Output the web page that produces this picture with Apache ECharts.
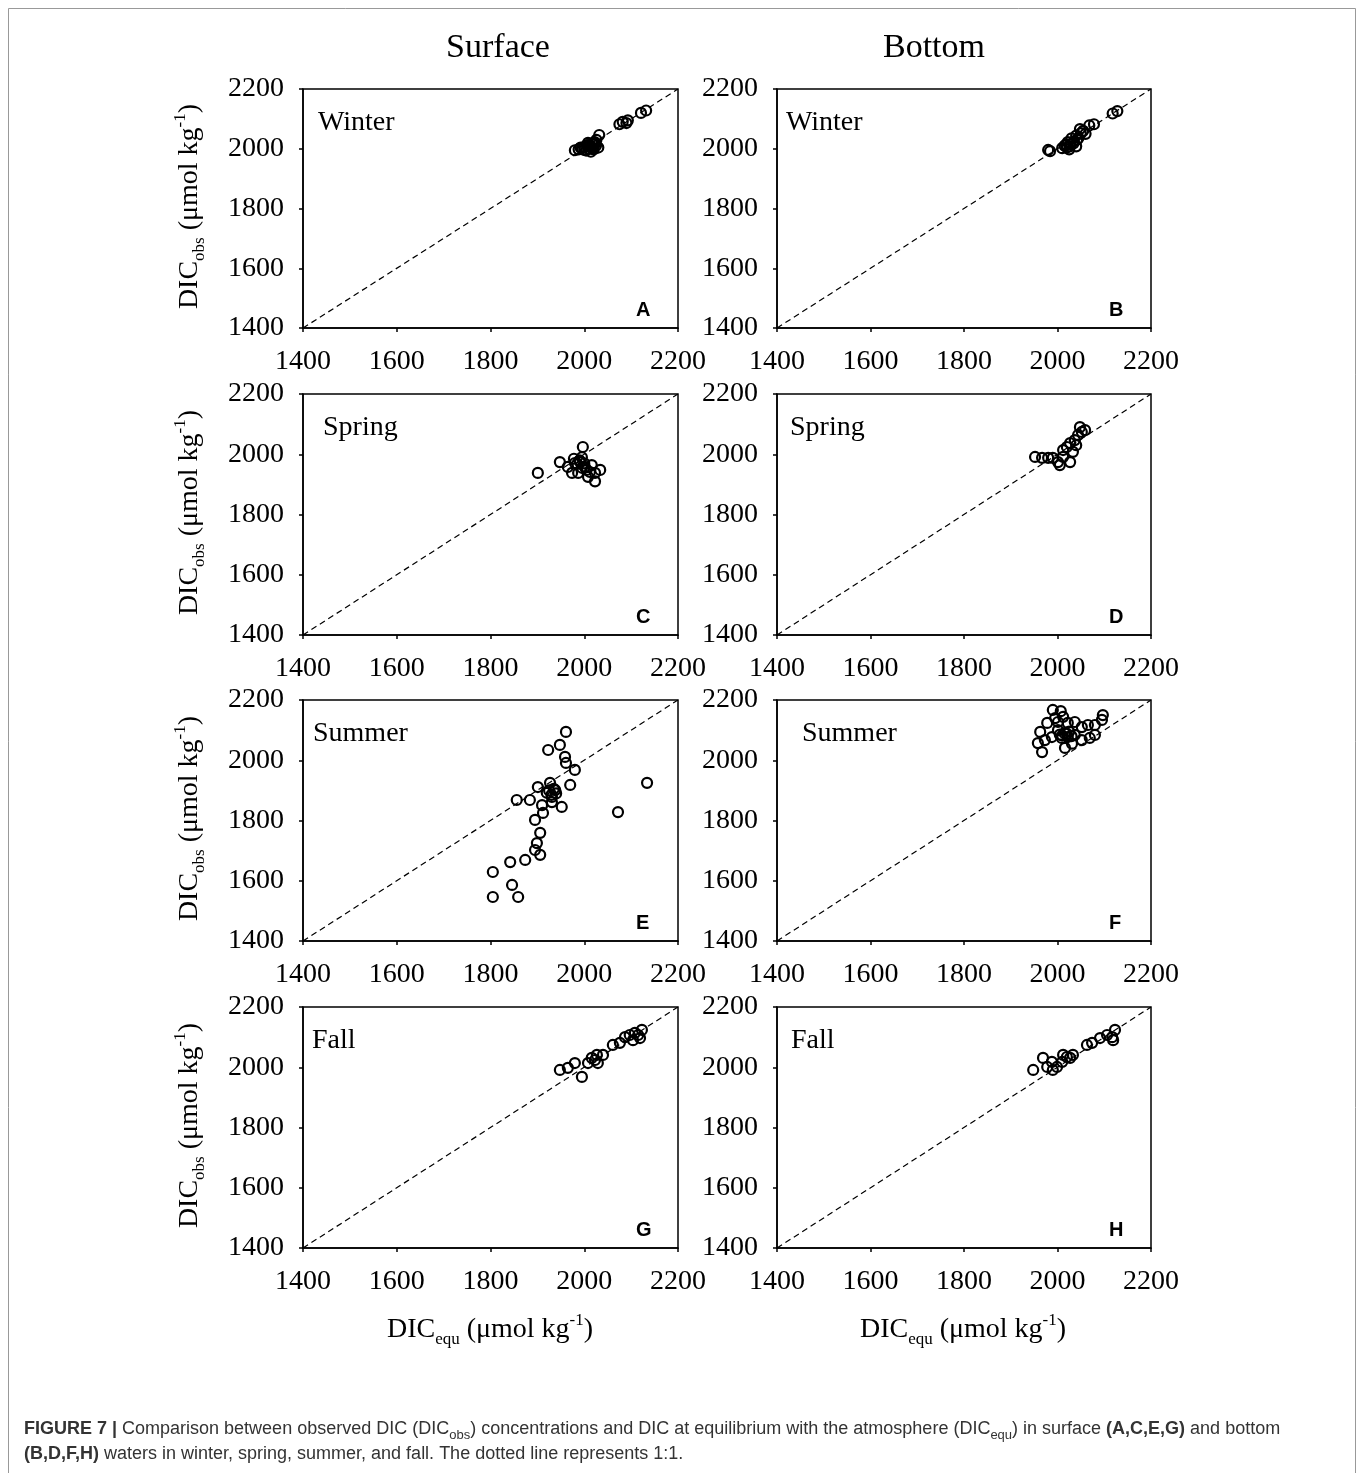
<!DOCTYPE html>
<html>
<head>
<meta charset="utf-8">
<script src="https://cdn.jsdelivr.net/npm/echarts@6/dist/echarts.min.js"></script>
<style>
  html, body { margin: 0; padding: 0; background: #fff; }
  #main { width: 1358px; height: 1473px; }
</style>
</head>
<body>
<div id="main"></div>
<script>
// axis ticks (both axes, all panels)
var tickValues = [1400, 1600, 1800, 2000, 2200];

// [DICequ, DICobs] pairs
var surfaceWinter = [
  [1980, 1995], [1988, 1998], [1995, 2001], [2000, 2006], [2004, 1994], [2010, 2000],
  [2010, 2012], [2015, 2005], [2018, 2016], [2020, 1998], [2025, 2010], [2026, 2030],
  [2032, 2046], [2000, 1996], [2014, 1990], [2030, 2004], [2022, 2022], [2008, 2020],
  [2012, 2008], [2018, 2002], [2024, 2018], [2006, 2012], [1992, 2004],
  [2075, 2082], [2082, 2090], [2090, 2086], [2093, 2095], [2121, 2120], [2132, 2128]
];
var bottomWinter = [
  [1980, 1996], [1984, 1992], [2010, 2002], [2015, 2010], [2020, 2004], [2022, 2022],
  [2028, 2015], [2030, 2035], [2035, 2025], [2040, 2044], [2045, 2036], [2050, 2052],
  [2055, 2060], [2060, 2050], [2040, 2008], [2025, 1998], [2048, 2066], [2068, 2078],
  [2018, 2014], [2026, 2008], [2034, 2018], [2042, 2030],
  [2078, 2082], [2118, 2118], [2128, 2126]
];
var surfaceSpring = [
  [1901, 1938], [1948, 1974], [1965, 1958], [1980, 1971], [1991, 1974], [2001, 1958],
  [2016, 1964], [2034, 1948], [2023, 1938], [2023, 1910], [2008, 1925], [1987, 1938],
  [1974, 1938], [2012, 1941], [1997, 2024], [1995, 1990], [1990, 1980], [1985, 1968],
  [2000, 1970], [1995, 1955], [2005, 1948], [1978, 1985]
];
var bottomSpring = [
  [1952, 1991], [1967, 1988], [1980, 1988], [1990, 1988], [2001, 1974], [2005, 1964],
  [2012, 1991], [2012, 2014], [2020, 2024], [2027, 2037], [2033, 2008], [2037, 2047],
  [2044, 2064], [2052, 2074], [2048, 2090], [2059, 2080], [2027, 1974], [2040, 2030]
];
var surfaceSummer = [
  [1961, 2094], [1923, 2034], [1948, 2051], [1959, 2011], [1961, 1991], [1980, 1968],
  [1901, 1911], [1927, 1925], [1938, 1901], [1970, 1918], [1931, 1878], [1931, 1861],
  [1856, 1868], [1884, 1868], [1910, 1851], [1952, 1845], [1912, 1825], [1895, 1802],
  [1906, 1759], [1899, 1725], [1895, 1702], [1906, 1686], [1874, 1669], [1842, 1662],
  [1805, 1629], [1846, 1586], [1805, 1546], [1859, 1546], [2072, 1828], [2134, 1925],
  [1920, 1892], [1930, 1885], [1925, 1900], [1935, 1905], [1940, 1890]
];
var bottomSummer = [
  [2007, 2163], [1963, 2094], [1958, 2057], [1967, 2027], [1978, 2124], [1995, 2140],
  [1990, 2167], [2001, 2127], [2012, 2144], [2022, 2124], [2037, 2127], [2052, 2110],
  [2065, 2117], [2080, 2117], [2095, 2134], [2097, 2150], [1988, 2077], [2009, 2074],
  [2022, 2077], [2037, 2084], [2016, 2041], [2052, 2067], [2069, 2074], [2080, 2084],
  [1973, 2067], [2001, 2100], [2031, 2055], [2015, 2090], [2025, 2095], [2005, 2085],
  [2010, 2082], [2020, 2088], [2030, 2080]
];
var surfaceFall = [
  [1948, 1991], [1965, 1998], [1995, 1968], [1980, 2014], [2008, 2014], [2016, 2031],
  [2027, 2041], [2029, 2014], [2023, 2024], [2040, 2041], [2061, 2074], [2076, 2081],
  [2087, 2100], [2097, 2107], [2104, 2090], [2115, 2107], [2119, 2097], [2108, 2114],
  [2123, 2124]
];
var bottomFall = [
  [1948, 1991], [1969, 2031], [1978, 2001], [1988, 2018], [1990, 1991], [1999, 2001],
  [2010, 2018], [2020, 2034], [2027, 2031], [2033, 2041], [2012, 2041], [2063, 2074],
  [2074, 2081], [2091, 2097], [2106, 2107], [2117, 2100], [2123, 2124], [2119, 2090]
];

var panelData = [surfaceWinter, bottomWinter, surfaceSpring, bottomSpring,
                 surfaceSummer, bottomSummer, surfaceFall, bottomFall];
var panelLetters = ['A', 'B', 'C', 'D', 'E', 'F', 'G', 'H'];
var seasons = ['Winter', 'Spring', 'Summer', 'Fall'];

// layout
var gridLefts = [303, 777];
var gridWidths = [375, 374];
var gridTops = [89, 394, 700, 1007];
var gridHeights = [239, 241, 241, 241];
var seasonLeft = [[318, 786], [323, 790], [313, 802], [312, 791]];

var serif = '"Liberation Serif", "DejaVu Serif", serif';
var sans = '"Liberation Sans", Arial, sans-serif';

var grids = [], xAxes = [], yAxes = [], series = [], graphics = [];

for (var i = 0; i < 8; i++) {
  var row = Math.floor(i / 2), col = i % 2;
  grids.push({
    left: gridLefts[col], top: gridTops[row],
    width: gridWidths[col], height: gridHeights[row],
    show: true, borderColor: '#000', borderWidth: 1.5
  });
  var axisBase = {
    gridIndex: i, type: 'value',
    min: tickValues[0], max: tickValues[tickValues.length - 1], interval: 200,
    splitLine: { show: false },
    axisLine: { show: true, onZero: false, lineStyle: { color: '#000', width: 1.5 } },
    axisTick: { show: true, length: 4, lineStyle: { color: '#000', width: 1.5 } },
    axisLabel: {
      color: '#000', fontFamily: serif, fontSize: 28,
      formatter: function (v) { return String(v); }
    }
  };
  xAxes.push(Object.assign({}, axisBase, {
    axisLabel: Object.assign({}, axisBase.axisLabel, { margin: 20 })
  }));
  yAxes.push(Object.assign({}, axisBase, {
    axisLabel: Object.assign({}, axisBase.axisLabel, { margin: 19 })
  }));

  // 1:1 line
  series.push({
    type: 'line', xAxisIndex: i, yAxisIndex: i,
    data: [[1400, 1400], [2200, 2200]],
    symbol: 'none', silent: true, z: 1,
    lineStyle: { color: '#000', width: 1.2, type: [6, 4] }
  });
  // observations
  series.push({
    type: 'scatter', xAxisIndex: i, yAxisIndex: i,
    data: panelData[i], symbol: 'circle', symbolSize: 10, z: 2,
    itemStyle: { color: 'rgba(255,255,255,0)', borderColor: '#000', borderWidth: 2.2, opacity: 1 }
  });

  // season label
  graphics.push({
    type: 'text', left: seasonLeft[row][col], top: gridTops[row] + 20,
    style: { text: seasons[row], font: '28px ' + serif, fill: '#000' }
  });
  // panel letter
  graphics.push({
    type: 'text', left: gridLefts[col] + gridWidths[col] - 42, top: gridTops[row] + gridHeights[row] - 28,
    style: { text: panelLetters[i], font: 'bold 20px ' + sans, fill: '#000' }
  });
}

var subRich = {
  b: { fontFamily: serif, fontSize: 28, fill: '#000', lineHeight: 36, verticalAlign: 'middle' },
  sub: { fontFamily: serif, fontSize: 17, fill: '#000', lineHeight: 36, verticalAlign: 'bottom' },
  sup: { fontFamily: serif, fontSize: 17, fill: '#000', lineHeight: 36, verticalAlign: 'top' }
};

// y axis names
for (var r = 0; r < 4; r++) {
  graphics.push({
    type: 'text', x: 190, y: gridTops[r] + gridHeights[r] / 2 - 2, rotation: Math.PI / 2,
    style: {
      text: '{b|DIC}{sub|obs}{b| (μmol kg}{sup|-1}{b|)}',
      rich: subRich, align: 'center', verticalAlign: 'middle'
    }
  });
}
// x axis names
[490, 963].forEach(function (cx) {
  graphics.push({
    type: 'text', x: cx, y: 1330,
    style: {
      text: '{b|DIC}{sub|equ}{b| (μmol kg}{sup|-1}{b|)}',
      rich: subRich, align: 'center', verticalAlign: 'middle'
    }
  });
});
// column titles
graphics.push({ type: 'text', x: 498, y: 48,
  style: { text: 'Surface', font: '34px ' + serif, fill: '#000', align: 'center', verticalAlign: 'middle' } });
graphics.push({ type: 'text', x: 934, y: 48,
  style: { text: 'Bottom', font: '34px ' + serif, fill: '#000', align: 'center', verticalAlign: 'middle' } });

// caption
var capRich = {
  t: { fontFamily: sans, fontSize: 18, fill: '#333', lineHeight: 25 },
  bo: { fontFamily: sans, fontSize: 18, fontWeight: 'bold', fill: '#333', lineHeight: 25 },
  s: { fontFamily: sans, fontSize: 13, fill: '#333', lineHeight: 25, verticalAlign: 'bottom' }
};
graphics.push({
  type: 'text', left: 24, top: 1420,
  style: {
    text: '{bo|FIGURE 7 |}{t| Comparison between observed DIC (DIC}{s|obs}{t|) concentrations and DIC at equilibrium with the atmosphere (DIC}{s|equ}{t|) in surface }{bo|(A,C,E,G)}{t| and bottom}\n' +
          '{bo|(B,D,F,H)}{t| waters in winter, spring, summer, and fall. The dotted line represents 1:1.}',
    rich: capRich
  }
});
// figure frame
graphics.push({
  type: 'rect', shape: { x: 8.5, y: 8.5, width: 1347, height: 1480 },
  style: { fill: 'none', stroke: '#999', lineWidth: 1 }, silent: true
});

var chart = echarts.init(document.getElementById('main'));
chart.setOption({
  backgroundColor: '#fff',
  animation: false,
  grid: grids,
  xAxis: xAxes,
  yAxis: yAxes,
  series: series,
  graphic: graphics
});
</script>
</body>
</html>
